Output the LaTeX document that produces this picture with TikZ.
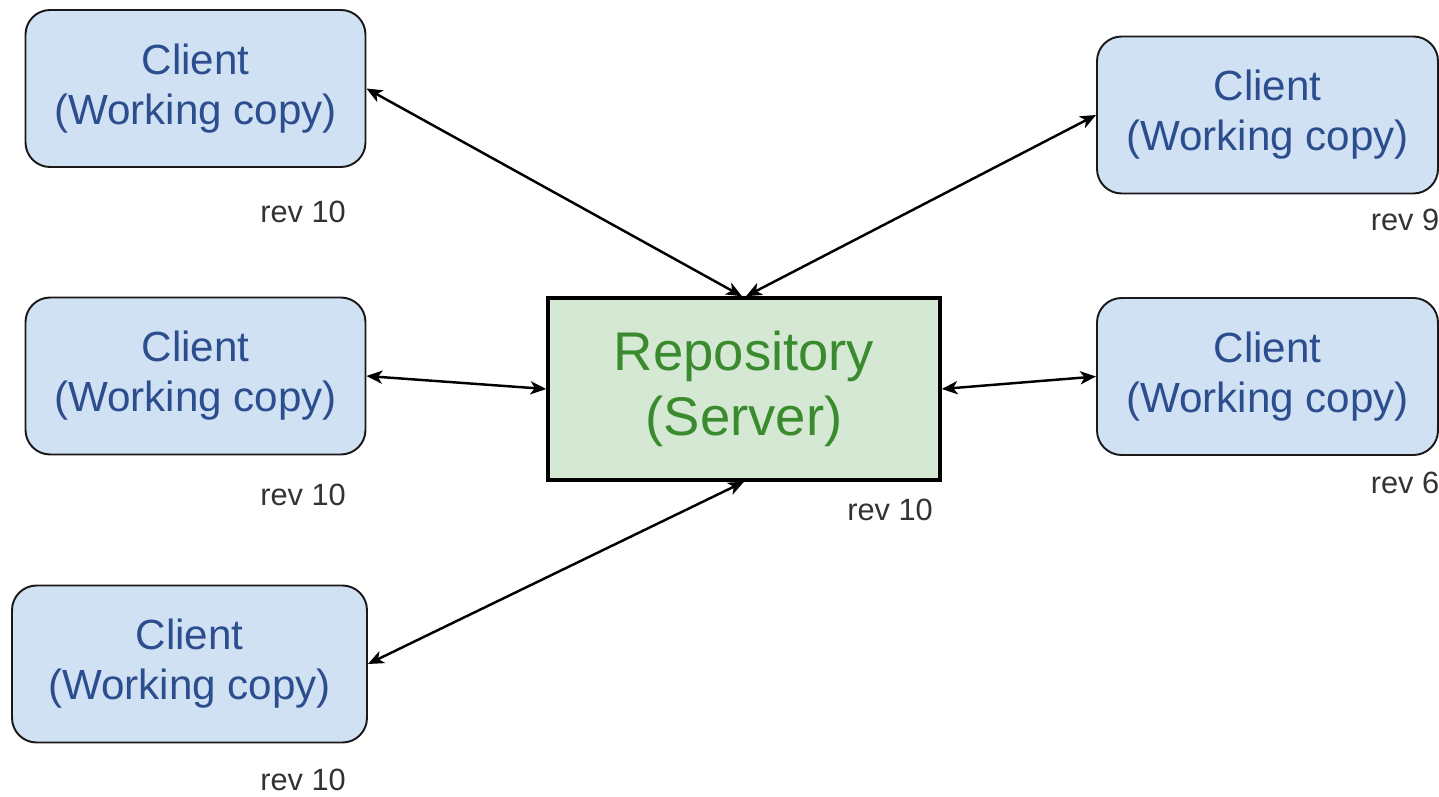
\documentclass[tikz,border=0pt]{standalone}
\usepackage{fontspec}
\setmainfont{Liberation Sans}
\usetikzlibrary{calc,arrows.meta}
\definecolor{clientfill}{HTML}{D0E1F4}
\definecolor{clienttext}{HTML}{2C4D8E}
\definecolor{repofill}{HTML}{D5E8D4}
\definecolor{repotext}{HTML}{3A8A2E}
\definecolor{revtext}{HTML}{333333}
\tikzset{>={Stealth[length=9pt,width=7.5pt,inset=2.5pt]}}
\tikzset{
  client/.style={draw=black!90,line width=1.1pt,rounded corners=14pt,fill=clientfill,
    text=clienttext,align=center,minimum width=6.8cm,minimum height=3.14cm,
    font=\fontsize{24}{28.4}\selectfont},
  repo/.style={draw=black,line width=2pt,fill=repofill,text=repotext,align=center,
    minimum width=7.84cm,minimum height=3.64cm,font=\fontsize{31}{37}\selectfont},
  rev/.style={text=revtext,font=\fontsize{17.5}{20}\selectfont},
  link/.style={<->,line width=1.4pt}
}

\begin{document}
\begin{tikzpicture}
      \useasboundingbox[fill=white] (0,0) rectangle (28.78,-15.94);

      \node[repo] (repo) at (14.88,-7.78) {Repository\\(Server)};

      \node[client] (cl1) at (3.91,-1.77) {Client\\(Working copy)};
      \node[client] (cl2) at (3.91,-7.52) {Client\\(Working copy)};
      \node[client,minimum width=7.1cm] (cl3) at (3.79,-13.28) {Client\\(Working copy)};
      \node[client,minimum width=6.82cm] (cr1) at (25.35,-2.30) {Client\\(Working copy)};
      \node[client,minimum width=6.82cm] (cr2) at (25.35,-7.53) {Client\\(Working copy)};

      \node[rev] (rcl1) at (6.06,-4.24) {rev 10};
      \node[rev] (rcl2) at (6.06,-9.90) {rev 10};
      \node[rev] (rcl3) at (6.06,-15.60) {rev 10};
      \node[rev] (rrepo) at (17.80,-10.20) {rev 10};
      \node[rev] (rcr1) at (28.10,-4.40) {rev 9};
      \node[rev] (rcr2) at (28.10,-9.66) {rev 6};

      \draw[link] (cl1.east) -- ($(repo.north)+(-0.04,0)$);
      \draw[link] (cr1.west) -- ($(repo.north)+(0.04,0)$);
      \draw[link] (cl2.east) -- (repo.west);
      \draw[link] (cr2.west) -- (repo.east);
      \draw[link] (cl3.east) -- (repo.south);
    \end{tikzpicture}
\end{document}
